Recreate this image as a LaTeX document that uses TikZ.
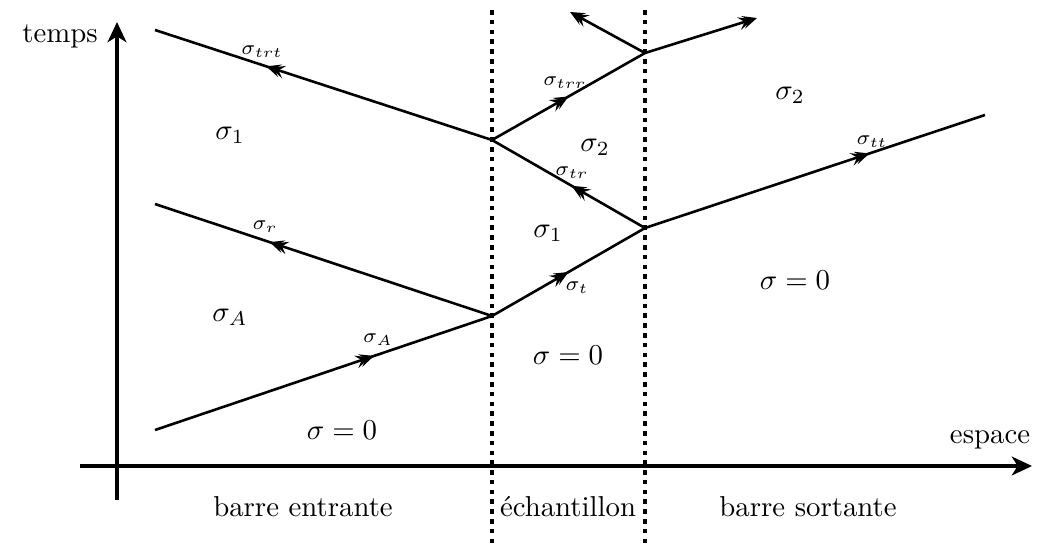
\documentclass[tikz,border=0pt]{standalone}
\usepackage{tikz}
\usetikzlibrary{arrows.meta,decorations.markings}

\begin{document}
\begin{tikzpicture}[x=0.0122cm,y=-0.0122cm,
  pointe/.style={Stealth[length=5pt,width=4.5pt,inset=2pt]},
  onde/.style={line width=0.9pt,postaction={decorate},
    decoration={markings,mark=at position #1 with
      {\arrow{Stealth[length=5pt,width=4.5pt,inset=2pt,sep=-3.5pt] Stealth[length=5pt,width=4.5pt,inset=2pt]}}}},
  onde/.default=0.65,
  lab/.style={font=\scriptsize},
  axe/.style={line width=1.4pt,-{Stealth[length=7pt,width=6.5pt,inset=2pt]}},
  interface/.style={line width=1.6pt,dash pattern=on 1.6pt off 1.8pt}]
\useasboundingbox (0,0) rectangle (1040,543);
% axes
\coordinate (t0) at (117,500);
\coordinate (t1) at (117,22);
\coordinate (e0) at (80,466);
\coordinate (e1) at (1032,466);
\draw[axe] (t0) -- (t1);
\draw[axe] (e0) -- (e1);
\node (tps) at (60,36) {temps};
\node (esp) at (990,440) {espace};
% interfaces
\foreach \x in {492,645}
  \draw[interface] (\x,10) -- (\x,543);
\node (be) at (303,507) {barre entrante};
\node (ech) at (568,507) {\'echantillon};
\node (bs) at (808,507) {barre sortante};
% points
\coordinate (a0) at (155,430);
\coordinate (p1) at (492,316);
\coordinate (p2) at (645,228);
\coordinate (p3) at (492,140);
\coordinate (p4) at (645,53);
\coordinate (r1) at (155,204);
\coordinate (t2) at (985,115);
\coordinate (r2) at (155,30);
\coordinate (u1) at (570,12);
\coordinate (u2) at (757,18);
% ondes
\draw[onde] (a0) -- (p1);
\draw[onde=0.66] (p1) -- (r1);
\draw[onde=0.5] (p1) -- (p2);
\draw[onde=0.66] (p2) -- (t2);
\draw[onde=0.48] (p2) -- (p3);
\draw[onde=0.67] (p3) -- (r2);
\draw[onde=0.5] (p3) -- (p4);
\draw[line width=0.9pt,-{Stealth[length=5pt,width=4.5pt,inset=2pt,sep=-3.5pt] Stealth[length=5pt,width=4.5pt,inset=2pt]}] (p4) -- (u1);
\draw[line width=0.9pt,-{Stealth[length=5pt,width=4.5pt,inset=2pt,sep=-3.5pt] Stealth[length=5pt,width=4.5pt,inset=2pt]}] (p4) -- (u2);
% etiquettes
\node[lab] (sA) at (378,340) {$\sigma_A$};
\node[lab] (sr) at (265,227) {$\sigma_r$};
\node[lab] (st) at (577,288) {$\sigma_t$};
\node[lab] (stt) at (872,142) {$\sigma_{tt}$};
\node[lab] (str) at (572,173) {$\sigma_{tr}$};
\node[lab] (strt) at (262,52) {$\sigma_{trt}$};
\node[lab] (strr) at (565,83) {$\sigma_{trr}$};
% zones
\node (z1) at (230,135) {$\sigma_1$};
\node (zA) at (230,317) {$\sigma_A$};
\node (z0) at (342,430) {$\sigma=0$};
\node (z2) at (568,355) {$\sigma=0$};
\node (z3) at (548,233) {$\sigma_1$};
\node (z4) at (595,147) {$\sigma_2$};
\node (z5) at (790,95) {$\sigma_2$};
\node (z6) at (795,280) {$\sigma=0$};
\end{tikzpicture}
\end{document}
